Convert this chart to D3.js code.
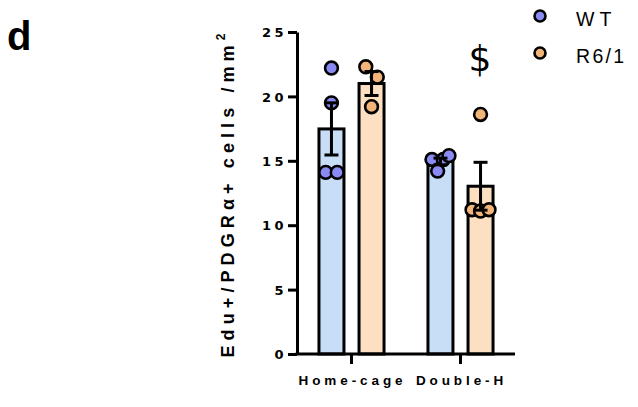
<!DOCTYPE html>
<html><head><meta charset="utf-8">
<script src="https://cdn.jsdelivr.net/npm/d3@7"></script>
<style>body{margin:0;background:#fff}svg{display:block}</style>
</head><body>
<svg id="c" width="638" height="407"></svg>
<script>
const groups = ["Home-cage", "Double-H"];
const seriesNames = ["WT", "R6/1"];
const wtHome = [22.2, 19.5, 14.1, 14.1];
const r61Home = [22.3, 21.5, 19.2];
const wtDouble = [15.1, 14.2, 15.1, 15.4];
const r61Double = [18.6, 11.2, 11.1, 11.2];
const yTicks = [0, 5, 10, 15, 20, 25];
const yLabel = "Edu+/PDGRα+ cells /mm";
const panelLetter = "d";
const sigMark = "$";

const dots = {"WT": "#8a8af4", "R6/1": "#f2b478"};
const fills = {"WT": "#c8ddf6", "R6/1": "#fde0c2"};
const FONT = "Liberation Sans, Arial, sans-serif";

const data = [
  {g: "Home-cage", s: "WT", v: wtHome},
  {g: "Home-cage", s: "R6/1", v: r61Home},
  {g: "Double-H", s: "WT", v: wtDouble},
  {g: "Double-H", s: "R6/1", v: r61Double}
];
data.forEach(d => {
  d.mean = d3.mean(d.v);
  d.sem = d3.deviation(d.v) / Math.sqrt(d.v.length);
});

const svg = d3.select("#c");
const x0 = d3.scaleBand().domain(groups).range([297, 515]);
const x1 = d3.scalePoint().domain(seriesNames).range([0, x0.bandwidth()]).padding(0.86);
const y = d3.scaleLinear().domain([0, 25]).range([354, 32]);
const barW = 25;
const cx = d => x0(d.g) + x1(d.s);

// bars
svg.append("g").selectAll("rect").data(data).join("rect")
  .attr("x", d => cx(d) - barW / 2)
  .attr("y", d => y(d.mean))
  .attr("width", barW)
  .attr("height", d => y(0) - y(d.mean))
  .attr("fill", d => fills[d.s])
  .attr("stroke", "#000").attr("stroke-width", 3);

// points with simple cluster spreading
const pts = [];
data.forEach(d => {
  const idx = d.v.map((v, i) => ({v, i})).sort((a, b) => a.v - b.v);
  const clusters = [];
  idx.forEach((p, k) => {
    if (k > 0 && p.v - idx[k - 1].v < 1.3) clusters[clusters.length - 1].push(p);
    else clusters.push([p]);
  });
  clusters.forEach(cl => {
    cl.sort((a, b) => a.i - b.i);
    const n = cl.length;
    const sp = n > 1 ? Math.min(11.5, 17 / (n - 1)) : 0;
    cl.forEach((p, j) => pts.push({x: cx(d) + (j - (n - 1) / 2) * sp, v: p.v, s: d.s}));
  });
});
svg.append("g").selectAll("circle").data(pts).join("circle")
  .attr("cx", d => d.x).attr("cy", d => y(d.v)).attr("r", 6.4)
  .attr("fill", d => dots[d.s]).attr("stroke", "#000").attr("stroke-width", 2.6);

// error bars
const eb = svg.append("g").attr("stroke", "#000").attr("stroke-width", 3);
data.forEach(d => {
  const c = cx(d), lo = y(d.mean - d.sem), hi = y(d.mean + d.sem);
  eb.append("line").attr("x1", c).attr("x2", c).attr("y1", lo).attr("y2", hi);
  eb.append("line").attr("x1", c - 7).attr("x2", c + 7).attr("y1", lo).attr("y2", lo);
  eb.append("line").attr("x1", c - 7).attr("x2", c + 7).attr("y1", hi).attr("y2", hi);
});

// axes
const yAxis = svg.append("g").attr("transform", "translate(297,0)")
  .call(d3.axisLeft(y).tickValues(yTicks).tickSize(9).tickSizeOuter(0));
yAxis.select(".domain").attr("stroke-width", 3);
yAxis.selectAll(".tick line").attr("stroke-width", 3);
yAxis.selectAll(".tick text")
  .attr("font-family", "DejaVu Sans, sans-serif")
  .attr("font-weight", "bold").attr("font-size", 13)
  .attr("letter-spacing", "3.5px").attr("x", -10).attr("dy", "0.36em").attr("fill", "#000");

const xAxis = svg.append("g").attr("transform", "translate(0,354)")
  .call(d3.axisBottom(x0).tickSize(10).tickSizeOuter(0));
xAxis.select(".domain").attr("stroke-width", 3).attr("d", "M295.5,0H515");
xAxis.selectAll(".tick line").attr("stroke-width", 3);
xAxis.selectAll(".tick text")
  .attr("font-family", FONT)
  .attr("font-weight", "bold").attr("font-size", 13.5)
  .attr("letter-spacing", "3.9px").attr("y", 31).attr("dy", 0).attr("dx", 1).attr("fill", "#000");

// y label
const yl = svg.append("text")
  .attr("transform", "translate(234,193) rotate(-90)")
  .attr("text-anchor", "middle")
  .attr("font-family", FONT)
  .attr("font-weight", "bold").attr("font-size", 18).attr("letter-spacing", "5.1px");
yl.append("tspan").text(yLabel);
yl.append("tspan").attr("dy", -9).attr("font-size", 12).text("2");

// panel letter
svg.append("text").attr("x", 7).attr("y", 50)
  .attr("font-family", FONT)
  .attr("font-weight", "bold").attr("font-size", 40).text(panelLetter);

// significance mark
svg.append("text").attr("x", 480).attr("y", 71).attr("text-anchor", "middle")
  .attr("font-family", "DejaVu Sans, sans-serif")
  .attr("font-size", 36).attr("fill", "#000").text(sigMark);

// legend
const lg = svg.append("g");
const lsp = {"WT": "5px", "R6/1": "2.3px"};
seriesNames.forEach((s, i) => {
  const yy = 16 + i * 37;
  lg.append("circle").attr("cx", 540).attr("cy", yy).attr("r", 5.5)
    .attr("fill", dots[s]).attr("stroke", "#000").attr("stroke-width", 2.6);
  lg.append("text").attr("x", 576).attr("y", yy + 10)
    .attr("font-family", FONT).attr("letter-spacing", lsp[s])
    .attr("font-size", 19.5).text(s);
});
</script>
</body></html>
